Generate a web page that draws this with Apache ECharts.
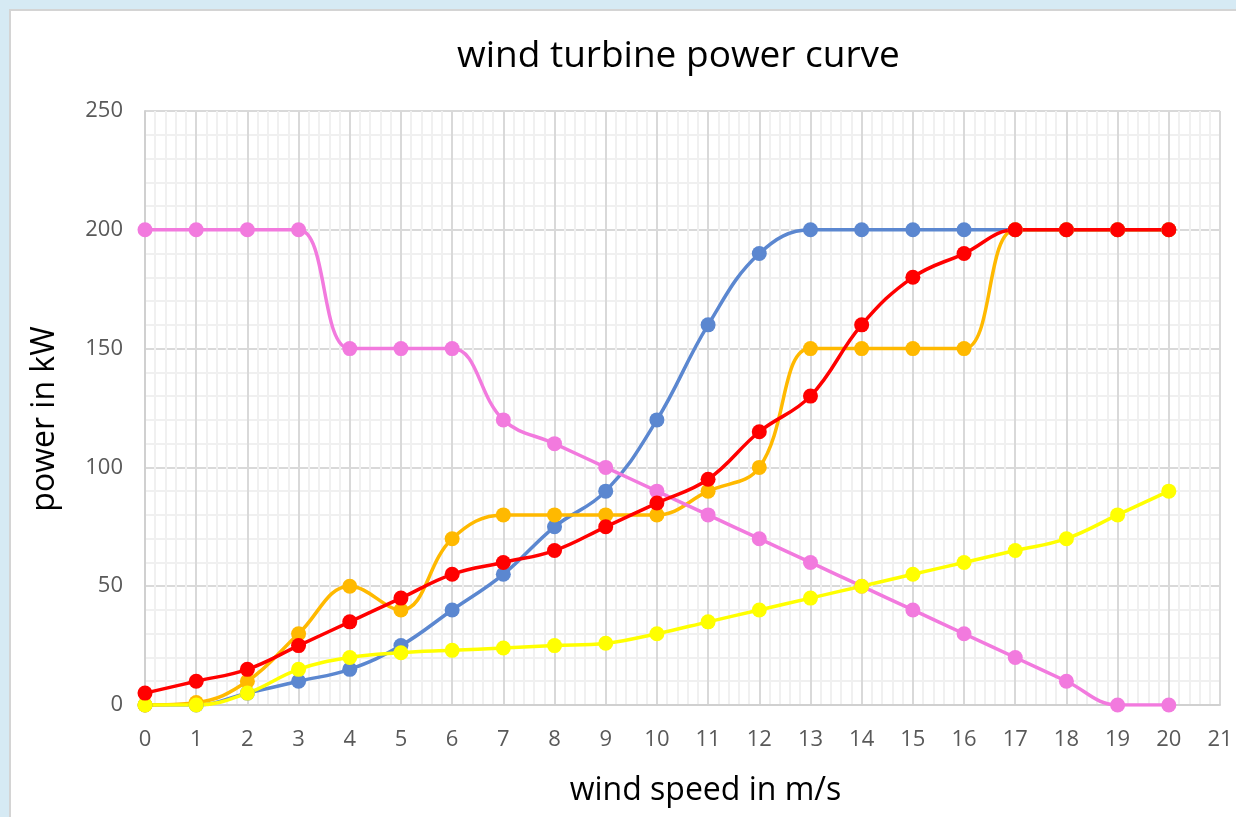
<!DOCTYPE html>
<html>
<head>
<meta charset="utf-8">
<title>wind turbine power curve</title>
<script src="https://cdn.jsdelivr.net/npm/echarts@6/dist/echarts.min.js"></script>
<style>
  html, body { margin: 0; padding: 0; background: #d6eaf4; }
  #panel { position: absolute; left: 9px; top: 9px; width: 1227px; height: 808px;
           background: #fff; border-left: 2px solid #d4d4d4; border-top: 2px solid #d4d4d4; }
  #chart { position: absolute; left: 0; top: 0; width: 1236px; height: 817px; }
</style>
</head>
<body>
<div id="panel"></div>
<div id="chart"></div>
<script>
// wind speed in m/s
const speeds = [0, 1, 2, 3, 4, 5, 6, 7, 8, 9, 10, 11, 12, 13, 14, 15, 16, 17, 18, 19, 20]
// power in kW, one list per turbine
const bluePower   = [0, 0, 5, 10, 15, 25, 40, 55, 75, 90, 120, 160, 190, 200, 200, 200, 200, 200, 200, 200, 200]
const orangePower = [0, 1, 10, 30, 50, 40, 70, 80, 80, 80, 80, 90, 100, 150, 150, 150, 150, 200, 200, 200, 200]
const pinkPower   = [200, 200, 200, 200, 150, 150, 150, 120, 110, 100, 90, 80, 70, 60, 50, 40, 30, 20, 10, 0, 0]
const yellowPower = [0, 0, 5, 15, 20, 22, 23, 24, 25, 26, 30, 35, 40, 45, 50, 55, 60, 65, 70, 80, 90]
const redPower    = [5, 10, 15, 25, 35, 45, 55, 60, 65, 75, 85, 95, 115, 130, 160, 180, 190, 200, 200, 200, 200]

const labelFont = "'Open Sans', 'Noto Sans', sans-serif"

function makeSeries(name, values, color) {
  return {
    name: name,
    type: "line",
    smooth: 0.4,
    symbol: "circle",
    symbolSize: 15,
    lineStyle: { width: 3.5, color: color },
    itemStyle: { color: color },
    data: speeds.map((s, i) => [s, values[i]]),
  }
}

const chart = echarts.init(document.getElementById("chart"))
chart.setOption({
  animation: false,
  backgroundColor: "transparent",
  title: {
    text: "wind turbine power curve",
    left: 452,
    top: 33,
    textStyle: { fontFamily: labelFont, fontSize: 37, fontWeight: "normal", color: "#000" },
  },
  grid: { left: 145, right: 16, top: 111, bottom: 112 },
  xAxis: {
    type: "value",
    min: 0,
    max: 21,
    interval: 1,
    name: "wind speed in m/s",
    nameLocation: "middle",
    nameGap: 70,
    nameTextStyle: { fontFamily: labelFont, fontSize: 32, color: "#000", padding: [0, 0, 0, 46] },
    axisLine: { show: true, lineStyle: { color: "#d0d0d0", width: 2 } },
    axisTick: { show: false },
    axisLabel: { fontFamily: labelFont, fontSize: 22, color: "#595959", margin: 24 },
    splitLine: { show: true, lineStyle: { color: "#d9d9d9", width: 2 } },
    minorTick: { show: false, splitNumber: 5 },
    minorSplitLine: { show: true, lineStyle: { color: "#f0f0f0", width: 2 } },
  },
  yAxis: {
    type: "value",
    min: 0,
    max: 250,
    interval: 50,
    name: "power in kW",
    nameLocation: "middle",
    nameGap: 84,
    nameTextStyle: { fontFamily: labelFont, fontSize: 32, color: "#000", padding: [0, 22, 0, 0] },
    axisLine: { show: true, lineStyle: { color: "#d0d0d0", width: 2 } },
    axisTick: { show: false },
    axisLabel: { fontFamily: labelFont, fontSize: 22, color: "#595959", margin: 22 },
    splitLine: { show: true, lineStyle: { color: "#d9d9d9", width: 2 } },
    minorTick: { show: false, splitNumber: 5 },
    minorSplitLine: { show: true, lineStyle: { color: "#f0f0f0", width: 2 } },
  },
  series: [
    makeSeries("blue", bluePower, "#5b87d0"),
    makeSeries("orange", orangePower, "#ffb900"),
    makeSeries("pink", pinkPower, "#f27ade"),
    makeSeries("yellow", yellowPower, "#ffff00"),
    makeSeries("red", redPower, "#ff0000"),
  ],
})
</script>
</body>
</html>
